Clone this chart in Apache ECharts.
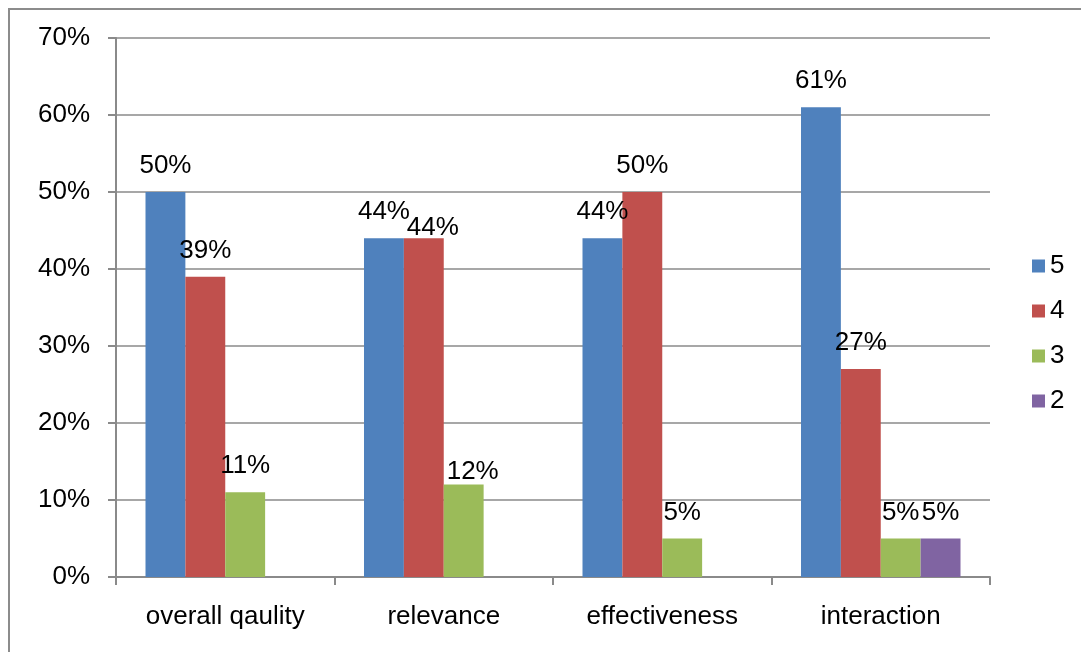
<!DOCTYPE html>
<html>
<head>
<meta charset="utf-8">
<script src="https://cdn.jsdelivr.net/npm/echarts@6/dist/echarts.min.js"></script>
<style>
  html, body { margin: 0; padding: 0; background: #fff; }
  #chart { width: 1081px; height: 652px; }
</style>
</head>
<body>
<div id="chart"></div>
<script>
// Rating distribution per aspect
const categories = ['overall qaulity', 'relevance', 'effectiveness', 'interaction'];
const seriesNames = ['5', '4', '3', '2'];
const rating5 = [0.50, 0.44, 0.44, 0.61];
const rating4 = [0.39, 0.44, 0.50, 0.27];
const rating3 = [0.11, 0.12, 0.05, 0.05];
const rating2 = [null, null, null, 0.05];
const yTicks = { min: 0, max: 0.7, interval: 0.1 };

const colors = ['#4F81BD', '#C0504D', '#9BBB59', '#8064A2'];
const FONT = 'Liberation Sans, Arial, sans-serif';
const FONT_SIZE = 26;
const GRID_COLOR = '#8a8a8a';

// a few labels sit nudged off their default spot
const labelNudges = {
  '4': { 1: [9, 16] },
  '3': { 1: [9, 13] }
};

function buildData(name, values) {
  return values.map((v, i) => {
    if (v === null) return '-';
    const nudge = labelNudges[name] && labelNudges[name][i];
    return nudge ? { value: v, label: { offset: nudge } } : v;
  });
}

const allValues = [rating5, rating4, rating3, rating2];

const series = seriesNames.map((name, k) => ({
  name: name,
  type: 'bar',
  data: buildData(name, allValues[k]),
  barGap: '0%',
  barCategoryGap: '27%',
  itemStyle: { color: colors[k] },
  label: {
    show: true,
    position: 'top',
    distance: 13,
    fontFamily: FONT,
    fontSize: FONT_SIZE,
    color: '#000',
    formatter: p => Math.round(p.value * 100) + '%'
  }
}));

const chart = echarts.init(document.getElementById('chart'), null, { renderer: 'canvas' });
chart.setOption({
  animation: false,
  backgroundColor: '#fff',
  graphic: [{
    type: 'rect',
    shape: { x: 9, y: 9, width: 1300, height: 900 },
    style: { fill: 'none', stroke: '#8c8c8c', lineWidth: 2 },
    silent: true
  }],
  grid: { left: 116, right: 91, top: 38, bottom: 75 },
  legend: {
    orient: 'vertical',
    left: 1032,
    top: 253,
    padding: 0,
    itemWidth: 13,
    itemHeight: 13,
    itemGap: 19,
    icon: 'rect',
    data: seriesNames,
    textStyle: { fontFamily: FONT, fontSize: FONT_SIZE, color: '#000', lineHeight: 26 }
  },
  xAxis: {
    type: 'category',
    data: categories,
    axisLine: { lineStyle: { color: GRID_COLOR, width: 2 } },
    axisTick: { show: true, length: 8, lineStyle: { color: GRID_COLOR, width: 2 } },
    axisLabel: { fontFamily: FONT, fontSize: FONT_SIZE, color: '#000', margin: 27 }
  },
  yAxis: {
    type: 'value',
    min: yTicks.min,
    max: yTicks.max,
    interval: yTicks.interval,
    axisLine: { show: true, lineStyle: { color: GRID_COLOR, width: 2 } },
    axisTick: { show: true, length: 8, lineStyle: { color: GRID_COLOR, width: 2 } },
    splitLine: { lineStyle: { color: GRID_COLOR, width: 1.5 } },
    axisLabel: {
      fontFamily: FONT, fontSize: FONT_SIZE, color: '#000', margin: 26,
      formatter: v => Math.round(v * 100) + '%'
    }
  },
  series: series
});
</script>
</body>
</html>
